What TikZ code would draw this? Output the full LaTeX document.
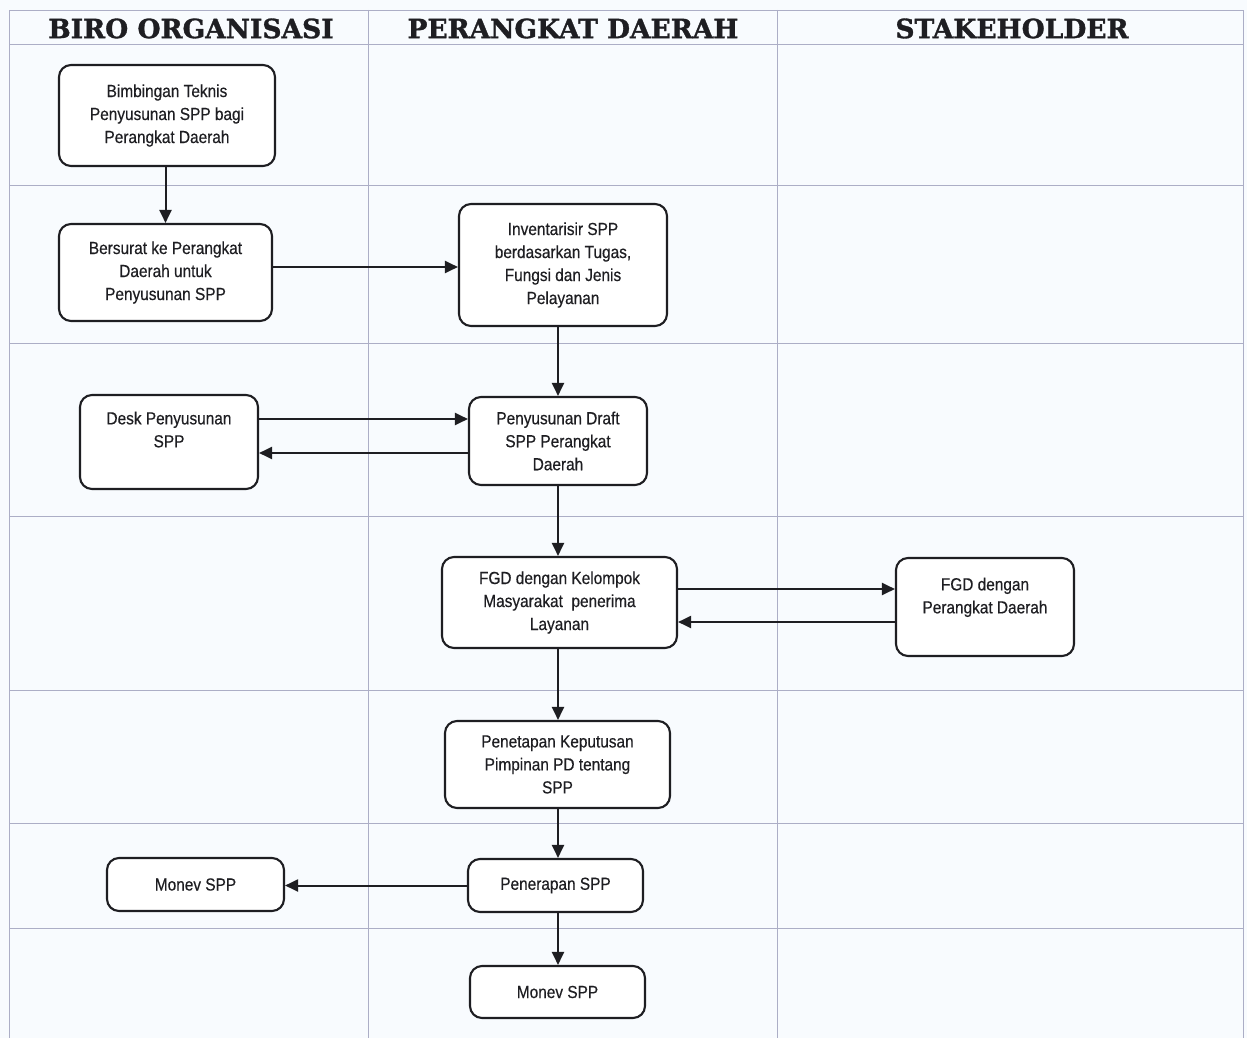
\documentclass[tikz,border=0pt]{standalone}
\usepackage{fontspec}
\setmainfont{Liberation Sans}
\newfontfamily\boxfont{Liberation Sans}[FakeStretch=0.88,FakeBold=0.4]
\newfontfamily\headfont{DejaVu Serif}[FakeBold=1.2]
\usetikzlibrary{arrows.meta,calc}
\definecolor{gridc}{RGB}{172,174,198}
\definecolor{paper}{RGB}{248,251,254}
\definecolor{ink}{RGB}{30,30,34}
\tikzset{
  stepbox/.style={draw=ink, line width=2.1pt, rounded corners=12pt, fill=white,
    align=center, inner sep=2pt, font=\boxfont\fontsize{17.5}{23}\selectfont, text=ink},
  flow/.style={draw=ink, line width=2pt, -{Triangle[length=13pt,width=12pt]}},
  lane/.style={draw=gridc, line width=0.9pt},
  lanehead/.style={font=\headfont\bfseries\fontsize{26.5}{26.5}\selectfont, text=ink}
}
\begin{document}
\begin{tikzpicture}[x=1pt,y=-1pt]
  \useasboundingbox (0,0) rectangle (1247,1038);
  \fill[paper] (0,0) rectangle (1247,1038);

  % swimlane grid
  \draw[lane] (9,1038) -- (9,10) -- (1243,10) -- (1243,1038);
  \draw[lane] (9,44) -- (1243,44);
  \foreach \yy in {185,343,516,690,823,928}
    \draw[lane] (9,\yy) -- (1243,\yy);
  \draw[lane] (368,10) -- (368,1038);
  \draw[lane] (777,10) -- (777,1038);

  % lane titles
  \node[lanehead] (h1) at (191,28.5) {BIRO ORGANISASI};
  \node[lanehead] (h2) at (573,28.5) {PERANGKAT DAERAH};
  \node[lanehead] (h3) at (1012,28.5) {STAKEHOLDER};

  % process steps
  \node[stepbox, minimum width=216pt, minimum height=101pt] (b1) at (167,115.5)
    {Bimbingan Teknis\\Penyusunan SPP bagi\\Perangkat Daerah};
  \node[stepbox, minimum width=213pt, minimum height=97pt] (b2) at (165.5,272.5)
    {Bersurat ke Perangkat\\Daerah untuk\\Penyusunan SPP};
  \node[stepbox, minimum width=208pt, minimum height=122pt] (b3) at (563,265)
    {Inventarisir SPP\\berdasarkan Tugas,\\Fungsi dan Jenis\\Pelayanan};
  \node[stepbox, minimum width=178pt, minimum height=94pt] (b4) at (169,442)
    {Desk Penyusunan\\SPP\\[2pt]};
  \node[stepbox, minimum width=178pt, minimum height=88pt] (b5) at (558,441)
    {Penyusunan Draft\\SPP Perangkat\\Daerah};
  \node[stepbox, minimum width=235pt, minimum height=91pt] (b6) at (559.5,602.5)
    {FGD dengan Kelompok\\Masyarakat\ \ penerima\\Layanan};
  \node[stepbox, minimum width=178pt, minimum height=98pt] (b7) at (985,607)
    {FGD dengan\\Perangkat Daerah\\[0pt]};
  \node[stepbox, minimum width=225pt, minimum height=87pt] (b8) at (557.5,764.5)
    {Penetapan Keputusan\\Pimpinan PD tentang\\SPP};
  \node[stepbox, minimum width=177pt, minimum height=53pt] (b9) at (195.5,884.5)
    {Monev SPP};
  \node[stepbox, minimum width=175pt, minimum height=53pt] (b10) at (555.5,885.5)
    {Penerapan SPP};
  \node[stepbox, minimum width=175pt, minimum height=52pt] (b11) at (557.5,992)
    {Monev SPP};

  % connectors
  \draw[flow] (b1.south -| b2.north) -- (b2.north);
  \draw[flow] ([yshift=5.5pt]b2.east) -- ([yshift=5.5pt]b2.east -| b3.west);
  \draw[flow] (b3.south -| b5.north) -- (b5.north);
  \draw[flow] ([yshift=23pt]b4.east) -- ([yshift=23pt]b4.east -| b5.west);
  \draw[flow] ([yshift=-12pt]b5.west) -- ([yshift=-12pt]b5.west -| b4.east);
  \draw[flow] (b5.south) -- (b5.south |- b6.north);
  \draw[flow] ([yshift=13.5pt]b6.east) -- ([yshift=13.5pt]b6.east -| b7.west);
  \draw[flow] ([yshift=-19.5pt]b6.east -| b7.west) -- ([yshift=-19.5pt]b6.east);
  \draw[flow] (b6.south -| b5.south) -- (b5.south |- b8.north);
  \draw[flow] (b8.south -| b5.south) -- (b5.south |- b10.north);
  \draw[flow] (b10.west) -- (b10.west -| b9.east);
  \draw[flow] (b10.south -| b5.south) -- (b5.south |- b11.north);
\end{tikzpicture}
\end{document}
